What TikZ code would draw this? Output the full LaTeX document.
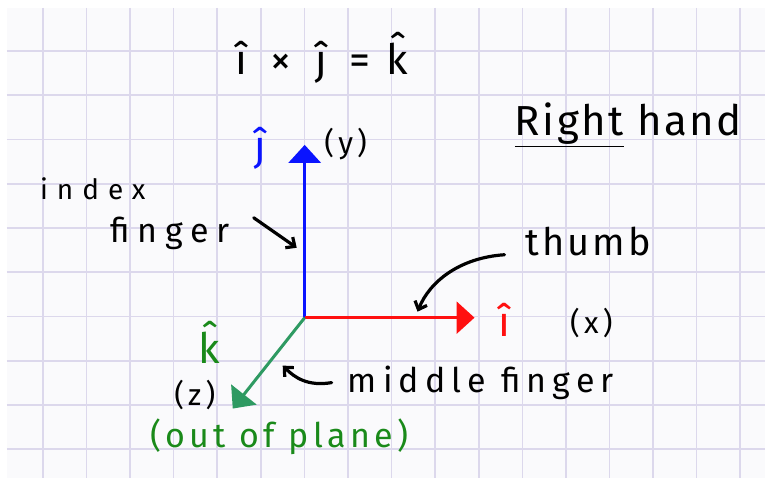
\documentclass[tikz,border=0pt]{standalone}
\usepackage{fontspec}
\setmainfont{Fira Sans}
\usetikzlibrary{arrows.meta, positioning}
\definecolor{paper}{HTML}{FAFAFC}
\definecolor{gridcol}{HTML}{DCD8EC}
\definecolor{xaxis}{HTML}{FF1010}
\definecolor{yaxis}{HTML}{0A14FF}
\definecolor{zaxis}{HTML}{2E9A62}
\definecolor{ztext}{HTML}{1A8A1A}
\newcommand{\spread}[2]{\fontsize{#1}{#1}\selectfont\addfontfeature{LetterSpace=#2}}
\tikzset{
  gridline/.style = {draw=gridcol, line width=1.6pt},
  axis/.style     = {line width=3pt, -{Triangle[length=18pt, width=32pt]}},
  pointer/.style  = {line width=3.2pt, line cap=round, -{Straight Barb[length=7pt, width=13pt]}},
  hand/.style     = {inner sep=0pt, font=\spread{34}{18}},
  small/.style    = {inner sep=0pt, font=\spread{30}{14}},
}

\begin{document}
\begin{tikzpicture}[x=1pt, y=-1pt]
  % paper and grid
  \fill[white] (0,0) rectangle (766,482);
  \fill[paper] (7,8) rectangle (766,478);
  \foreach \i in {0,...,16}
    \draw[gridline] ({43+43.625*\i},8) -- ({43+43.625*\i},478);
  \foreach \j in {0,...,9}
    \draw[gridline] (7,{51+44.3*\j}) -- (766,{51+44.3*\j});

  % axes
  \coordinate (o)    at (305,318);
  \coordinate (ytip) at (305,145);
  \coordinate (xtip) at (475,318);
  \coordinate (ztip) at (233,409);
  \draw[axis, yaxis] (o) -- (ytip);
  \draw[axis, xaxis] (o) -- (xtip);
  \draw[axis, zaxis] (o) -- (ztip);

  % labels
  \node[hand, font=\spread{42}{0}] (eq) at (322,58)
    {î\hspace{24pt}×\hspace{24pt}ĵ\hspace{22pt}=\hspace{16pt}\^{k}};
  \node[hand, font=\spread{42}{0}, yaxis] (jhat) at (261,148) {ĵ};
  \node[small] (ylab) at (346,144) {(y)};
  \node[hand, font=\spread{42}{6}, anchor=base] (rh) at (629,136) {\underline{Right} hand};
  \node[hand, font=\spread{28}{32}, anchor=base west] (idx) at (40,200) {index};
  \node[hand, font=\spread{34}{23}, anchor=base west] (fing) at (110,243) {finger};
  \node[hand, font=\spread{38}{8}, anchor=base west] (thumb) at (526,256) {thumb};
  \node[hand, font=\spread{42}{0}, xaxis] (ihat) at (505,320) {î};
  \node[small] (xlab) at (592,323) {(x)};
  \node[hand, font=\spread{42}{0}, ztext] (khat) at (209,343) {\^{k}};
  \node[small] (zlab) at (195,395) {(z)};
  \node[hand, anchor=base west] (mid) at (348,393) {middle finger};
  \node[hand, font=\spread{34}{13}, ztext, anchor=base west] (plane) at (150,448) {(out of plane)};

  % pointers
  \coordinate (fa) at (254,218);
  \coordinate (fb) at (297,248);
  \coordinate (ta) at (505,255);
  \coordinate (tb) at (418,312);
  \coordinate (ma) at (332,383);
  \coordinate (mb) at (283,366);
  \draw[pointer] (fa) -- (fb);
  \draw[pointer] (ta) .. controls (460,258) and (430,282) .. (tb);
  \draw[pointer] (ma) .. controls (308,387) and (295,378) .. (mb);
\end{tikzpicture}
\end{document}
